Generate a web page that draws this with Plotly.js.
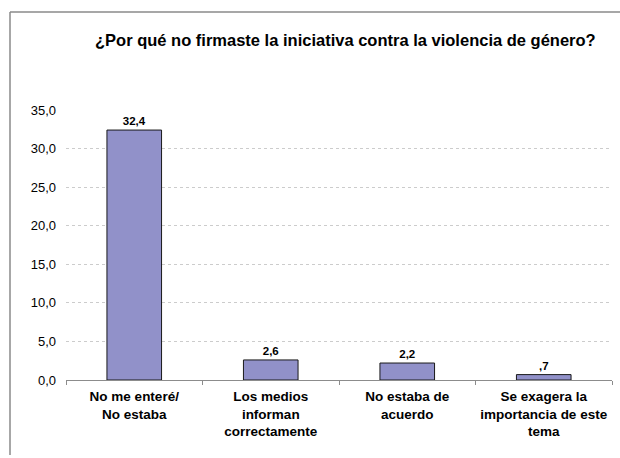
<!DOCTYPE html>
<html>
<head>
<meta charset="utf-8">
<script src="https://cdn.plot.ly/plotly-3.0.1.min.js"></script>
<style>
html,body{margin:0;padding:0;background:#fff;}
#chart{width:620px;height:458px;}
</style>
</head>
<body>
<div id="chart"></div>
<script>
var categories = ["No me enteré/<br>No estaba", "Los medios<br>informan<br>correctamente", "No estaba de<br>acuerdo", "Se exagera la<br>importancia de este<br>tema"];
var values = [32.4, 2.6, 2.2, 0.7];
var valueLabels = ["32,4", "2,6", "2,2", ",7"];
var yTicks = [0, 5, 10, 15, 20, 25, 30, 35];
var yTickLabels = ["0,0", "5,0", "10,0", "15,0", "20,0", "25,0", "30,0", "35,0"];

var trace = {
  type: "bar",
  x: categories,
  y: values,
  text: valueLabels,
  textposition: "outside",
  cliponaxis: false,
  textfont: {family: "Liberation Sans, Arial, sans-serif", size: 11.5, color: "#000", weight: "bold"},
  marker: {color: "#9191c9", line: {color: "#1a1a1a", width: 1}},
  hoverinfo: "none"
};

var layout = {
  width: 620, height: 458,
  margin: {l: 66, r: 8, t: 110, b: 78},
  paper_bgcolor: "#fff", plot_bgcolor: "#fff",
  showlegend: false,
  bargap: 0.6,
  title: {
    text: "<b>¿Por qué no firmaste la iniciativa contra la violencia de género?</b>",
    font: {family: "Liberation Sans, Arial, sans-serif", size: 16.5, color: "#000"},
    x: 0.557, xanchor: "center", y: 0.912, yanchor: "middle"
  },
  xaxis: {
    type: "category",
    showline: true, linecolor: "#8c8c8c", linewidth: 1,
    ticks: "outside", tickson: "boundaries", ticklen: 4, tickcolor: "#8c8c8c",
    ticklabelstandoff: 4,
    tickfont: {family: "Liberation Sans, Arial, sans-serif", size: 13.5, color: "#000", weight: "bold"},
    showgrid: false, zeroline: false, fixedrange: true
  },
  yaxis: {
    range: [0, 35],
    tickmode: "array", tickvals: yTicks, ticktext: yTickLabels,
    showgrid: true, gridcolor: "#cccccc", griddash: "dot", gridwidth: 1,
    showline: false, zeroline: false, ticks: "",
    ticklabelstandoff: 9,
    tickfont: {family: "Liberation Sans, Arial, sans-serif", size: 13, color: "#000"},
    fixedrange: true
  },
  shapes: [
    {type: "line", xref: "paper", yref: "paper", x0: -56/546, x1: 1.1, y0: 1 + 98/270, y1: 1 + 98/270, line: {color: "#8a8a8a", width: 1.5}},
    {type: "line", xref: "paper", yref: "paper", x0: -56/546, x1: -56/546, y0: 1 + 98/270, y1: -75/270, line: {color: "#8a8a8a", width: 1.5}}
  ]
};

Plotly.newPlot("chart", [trace], layout, {displayModeBar: false, staticPlot: true});
</script>
</body>
</html>
